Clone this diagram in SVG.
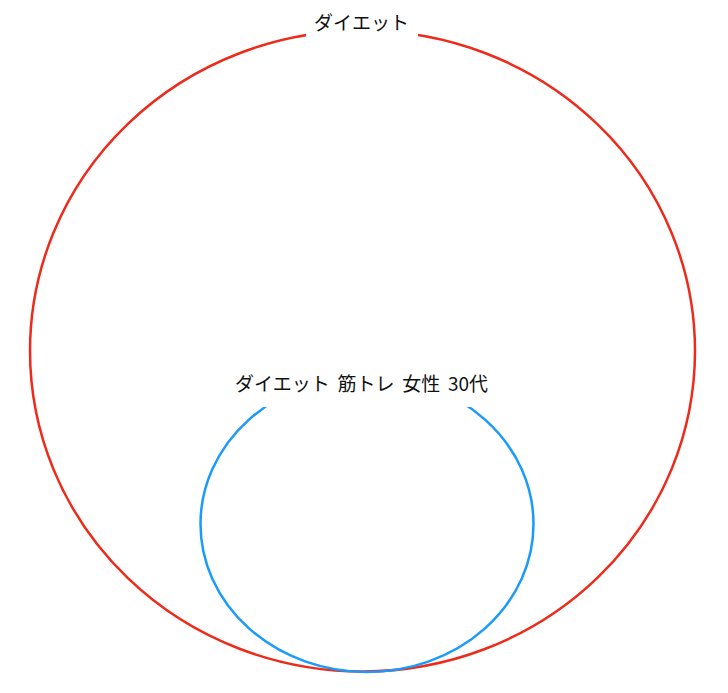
<svg xmlns="http://www.w3.org/2000/svg" width="728" height="693" viewBox="0 0 728 693">
<style>
.set{fill:none;stroke-width:2.5}
.bg{fill:#ffffff}
.lbl{font-family:"Noto Sans CJK JP","Noto Sans",sans-serif;font-size:19px;fill:#111111;text-anchor:middle}
</style>
<rect width="728" height="693" fill="#ffffff"/>
<g id="connectors"></g>
<g id="set-diet">
<ellipse class="set" cx="362.5" cy="351" rx="332.5" ry="320.5" stroke="#ee2a1b"/>
<rect class="bg" x="306" y="8" width="112" height="32"/>
<text class="lbl" x="361.5" y="30">ダイエット</text>
</g>
<g id="set-diet-training-female-30s">
<ellipse class="set" cx="367" cy="524" rx="166.5" ry="148" stroke="#1a9bfc"/>
<rect class="bg" x="226" y="364" width="270" height="43"/>
<text class="lbl" x="361.5" y="391" word-spacing="3.5">ダイエット 筋トレ 女性 30代</text>
</g>
</svg>
